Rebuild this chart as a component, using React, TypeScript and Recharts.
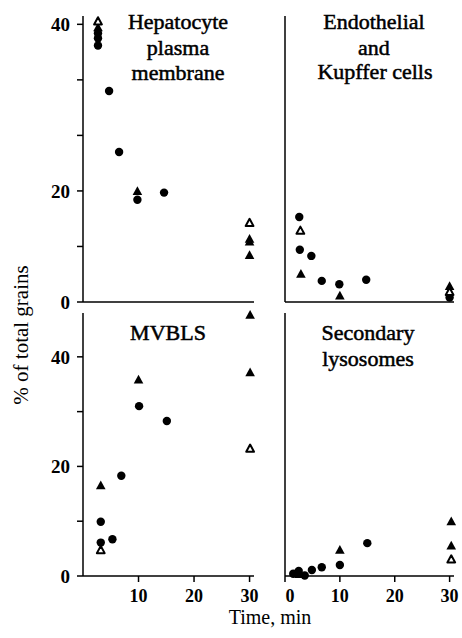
import React from "react";
import { ScatterChart, Scatter, XAxis, YAxis } from "recharts";

type Pt = { t: number; v: number };

// Hepatocyte plasma membrane (top left)
const hpmCircles: Pt[] = [
  { t: 2.7, v: 48.4 }, { t: 2.7, v: 47.5 }, { t: 2.7, v: 46.2 },
  { t: 4.7, v: 38.0 }, { t: 6.5, v: 27.0 }, { t: 9.8, v: 18.4 }, { t: 14.6, v: 19.7 },
];
const hpmFilled: Pt[] = [
  { t: 2.7, v: 49.4 }, { t: 9.8, v: 19.9 }, { t: 30, v: 10.8 }, { t: 30, v: 11.3 }, { t: 30, v: 8.4 },
];
const hpmOpen: Pt[] = [{ t: 2.7, v: 50.5 }, { t: 30, v: 14.2 }];

// Endothelial and Kupffer cells (top right)
const ekcCircles: Pt[] = [
  { t: 2.6, v: 15.3 }, { t: 2.7, v: 9.4 }, { t: 4.8, v: 8.3 }, { t: 6.7, v: 3.8 },
  { t: 9.9, v: 3.2 }, { t: 14.8, v: 4.0 }, { t: 30, v: 0.8 },
];
const ekcFilled: Pt[] = [{ t: 2.9, v: 5.0 }, { t: 10, v: 1.1 }, { t: 30, v: 2.8 }];
const ekcOpen: Pt[] = [{ t: 2.8, v: 12.8 }, { t: 30, v: 1.8 }];

// MVBLS (bottom left)
const mvbCircles: Pt[] = [
  { t: 3.2, v: 9.9 }, { t: 3.2, v: 6.1 }, { t: 5.3, v: 6.7 }, { t: 6.9, v: 18.3 },
  { t: 10.1, v: 31.0 }, { t: 15.1, v: 28.3 },
];
const mvbFilled: Pt[] = [{ t: 3.2, v: 16.5 }, { t: 10, v: 35.8 }, { t: 30.1, v: 47.6 }, { t: 30.1, v: 37.1 }];
const mvbOpen: Pt[] = [{ t: 3.2, v: 4.7 }, { t: 30.1, v: 23.2 }];

// Secondary lysosomes (bottom right)
const slCircles: Pt[] = [
  { t: 1.5, v: 0.4 }, { t: 2.5, v: 0.9 }, { t: 3.6, v: 0.1 }, { t: 4.9, v: 1.1 },
  { t: 6.7, v: 1.6 }, { t: 10, v: 2.0 }, { t: 15, v: 6.0 },
];
const slFilled: Pt[] = [{ t: 2.6, v: 0.3 }, { t: 10, v: 4.7 }, { t: 30.3, v: 9.9 }, { t: 30.3, v: 5.5 }];
const slOpen: Pt[] = [{ t: 30.3, v: 3.0 }];

const topYTicks = [0, 10, 20, 30, 40, 50];
const topYLabels = ["0", "", "20", "", "", "40"];
const bottomYTicks = [0, 10, 20, 30, 40];
const bottomYLabels = ["0", "", "20", "", "40"];
const leftXTicks = [10, 20, 30];
const rightXTicks = [0, 10, 20, 30];

const serif = "Liberation Serif";
const line = { stroke: "#000", strokeWidth: 1.5 };

const Dot = (p: any) => <circle cx={p.cx} cy={p.cy} r={4.2} fill="#000" />;
const Tri = (p: any) => (
  <path d={`M${p.cx},${p.cy - 5.2}L${p.cx + 4.8},${p.cy + 3.6}L${p.cx - 4.8},${p.cy + 3.6}Z`} fill="#000" />
);
const OpenTri = (p: any) => (
  <path
    d={`M${p.cx},${p.cy - 4.3}L${p.cx + 3.9},${p.cy + 2.9}L${p.cx - 3.9},${p.cy + 2.9}Z`}
    fill="#fff" stroke="#000" strokeWidth={2} strokeLinejoin="round"
  />
);

// bottom tick labels; the "0" sits a little right of the axis in the original
const XTick = (p: any) => (
  <text
    x={p.x + (p.payload.value === 0 ? 5 : 0)} y={p.y} dy="0.71em" textAnchor="middle"
    fontFamily={serif} fontSize={18} fontWeight="bold" fill="#000"
  >
    {p.payload.value}
  </text>
);

type PanelProps = {
  left: number; top: number; isLeft: boolean; isTop: boolean;
  circles: Pt[]; filled: Pt[]; open: Pt[];
};

function Panel({ left, top, isLeft, isTop, circles, filled, open }: PanelProps) {
  const yW = isLeft ? 40 : 10;
  const plotW = isLeft ? 171 : 169;
  const plotH = isTop ? 286 : 263;
  const mTop = isTop ? 16 : 13;
  const xH = isTop ? 12 : 30;
  const yMax = isTop ? 51.5 : 48;
  const yTicks = isTop ? topYTicks : bottomYTicks;
  const yLabels = isTop ? topYLabels : bottomYLabels;
  const xTicks = isLeft ? leftXTicks : rightXTicks;
  const tickFont = { fill: "#000", fontSize: 19, fontFamily: serif, fontWeight: "bold" };

  return (
    <div style={{ position: "absolute", left, top }}>
      <ScatterChart
        width={yW + plotW + 6}
        height={mTop + plotH + xH}
        margin={{ top: mTop, right: 6, bottom: 0, left: 0 }}
      >
        <XAxis
          type="number" dataKey="t" domain={[0, 30.8]} ticks={xTicks} height={xH}
          axisLine={line} tickLine={line}
          tickSize={isTop ? -6 : 6} tickMargin={7}
          tick={isTop ? false : XTick}
          interval={0}
        />
        <YAxis
          type="number" dataKey="v" domain={[0, yMax]} ticks={yTicks} width={yW}
          axisLine={line} tickLine={line}
          tickSize={isLeft ? 6 : -6} tickMargin={7}
          tick={isLeft ? tickFont : false}
          tickFormatter={(v: number) => yLabels[yTicks.indexOf(v)] ?? ""}
          interval={0}
        />
        <Scatter data={circles} shape={Dot} isAnimationActive={false} />
        <Scatter data={filled} shape={Tri} isAnimationActive={false} />
        <Scatter data={open} shape={OpenTri} isAnimationActive={false} />
      </ScatterChart>
    </div>
  );
}

const titleStyle = { fontFamily: serif, fontSize: 22, fill: "#000", stroke: "#000", strokeWidth: 0.5 };

export default function App() {
  return (
    <div style={{ position: "absolute", left: 0, top: 0, width: 462, height: 638, background: "#fff" }}>
      <Panel left={43} top={0} isLeft isTop circles={hpmCircles} filled={hpmFilled} open={hpmOpen} />
      <Panel left={275} top={0} isLeft={false} isTop circles={ekcCircles} filled={ekcFilled} open={ekcOpen} />
      <Panel left={43} top={300} isLeft isTop={false} circles={mvbCircles} filled={mvbFilled} open={mvbOpen} />
      <Panel left={275} top={300} isLeft={false} isTop={false} circles={slCircles} filled={slFilled} open={slOpen} />
      <svg width={462} height={638} style={{ position: "absolute", left: 0, top: 0, pointerEvents: "none" }}>
        <g textAnchor="middle" style={titleStyle as any}>
          <text x={178} y={29}>Hepatocyte</text>
          <text x={178} y={55}>plasma</text>
          <text x={178} y={80}>membrane</text>
          <text x={374} y={29}>Endothelial</text>
          <text x={374} y={55}>and</text>
          <text x={375} y={79}>Kupffer cells</text>
          <text x={168} y={340}>MVBLS</text>
          <text x={368} y={340}>Secondary</text>
          <text x={368} y={366}>lysosomes</text>
        </g>
        <text x={270} y={624} textAnchor="middle" fontFamily={serif} fontSize={20} fill="#000">
          Time, min
        </text>
        <text
          x={0} y={0} textAnchor="middle" fontFamily={serif} fontSize={21} fill="#000"
          transform="translate(28,335) rotate(-90)"
        >
          % of total grains
        </text>
      </svg>
    </div>
  );
}
